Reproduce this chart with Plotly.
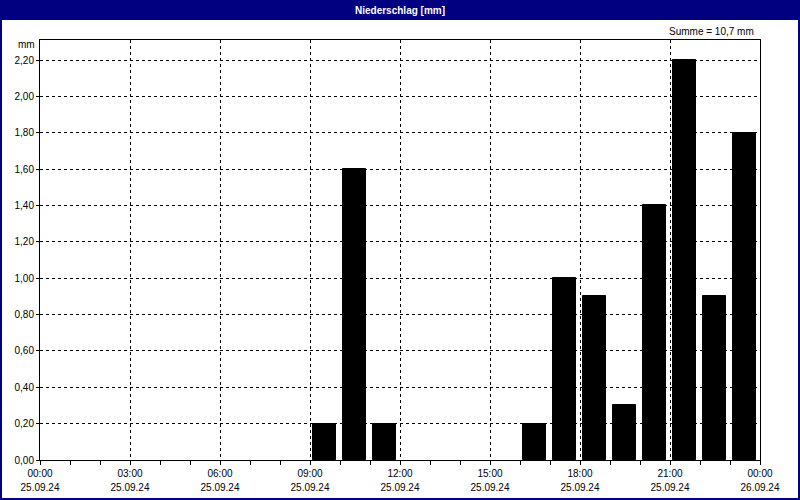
import plotly.graph_objects as go

# Hourly precipitation, 25.09.24 (bar starts at hour)
hours = [f"2024-09-25 {h:02d}:00" for h in range(24)]
precip = [0, 0, 0, 0, 0, 0, 0, 0, 0, 0.2, 1.6, 0.2,
          0, 0, 0, 0, 0.2, 1.0, 0.9, 0.3, 1.4, 2.2, 0.9, 1.8]
title_text = "Niederschlag [mm]"
unit = "mm"
total = sum(precip)
sum_text = f"Summe = {total:.1f} mm".replace(".", ",")

FONT = "Liberation Sans, Arial, sans-serif"
NAVY = "#000080"

fig = go.Figure()
fig.add_trace(go.Bar(
    x=hours, y=precip,
    width=2760000, offset=300000,
    marker=dict(color="#000000",
                line=dict(width=[1 if v > 0 else 0 for v in precip],
                          color="#000000")),
    hoverinfo="skip",
))
# invisible trace to activate the second (date-line) x axis
fig.add_trace(go.Scatter(x=[hours[0]], y=[0], xaxis="x2", mode="markers",
                         marker=dict(opacity=0), hoverinfo="skip"))

L, R, T, B = 40, 40, 40, 40
W, H = 800, 500
pw, ph = W - L - R, H - T - B


def px_x(px):
    return (px - L) / pw


def px_y(py):
    return (H - B - py) / ph


XRANGE = ["2024-09-25 00:00", "2024-09-26 00:00"]

fig.update_layout(
    width=W, height=H,
    margin=dict(l=L, r=R, t=T, b=B, pad=0, autoexpand=False),
    paper_bgcolor="white", plot_bgcolor="white",
    separators=",.",
    showlegend=False,
    bargap=0,
    font=dict(family=FONT, size=10, color="#000000"),
    xaxis=dict(
        type="date", range=XRANGE,
        tick0="2024-09-25 00:00", dtick=3 * 3600000,
        tickformat="%H:%M",
        showgrid=True, gridcolor="#000000", gridwidth=1, griddash="3px,3px",
        ticks="outside", ticklen=4, tickcolor="#000000",
        minor=dict(dtick=3600000, ticks="outside", ticklen=4,
                   tickcolor="#000000", showgrid=False),
        showline=True, linecolor="#000000", linewidth=1, mirror=True,
        zeroline=False, fixedrange=True, automargin=False,
    ),
    xaxis2=dict(
        type="date", range=XRANGE, overlaying="x", side="bottom",
        tick0="2024-09-25 00:00", dtick=3 * 3600000,
        tickformat="%d.%m.%y",
        showgrid=False, ticks="", showline=False, zeroline=False,
        ticklabelstandoff=20, fixedrange=True, automargin=False,
    ),
    yaxis=dict(
        range=[0, 2.31], tick0=0, dtick=0.2, tickformat=".2f",
        showgrid=True, gridcolor="#000000", gridwidth=1, griddash="3px,3px",
        ticks="outside", ticklen=3, tickcolor="#000000",
        showline=True, linecolor="#000000", linewidth=1, mirror=True,
        zeroline=False, fixedrange=True, automargin=False,
    ),
    shapes=[
        dict(type="rect", xref="paper", yref="paper",
             x0=px_x(0), x1=px_x(W), y0=px_y(20), y1=px_y(0),
             fillcolor=NAVY, line=dict(width=0), layer="above"),
        dict(type="rect", xref="paper", yref="paper",
             x0=px_x(1), x1=px_x(W - 1), y0=px_y(H - 1), y1=px_y(1),
             fillcolor="rgba(0,0,0,0)", line=dict(color=NAVY, width=2),
             layer="above"),
    ],
    annotations=[
        dict(text=f"<b>{title_text}</b>", xref="paper", yref="paper",
             x=px_x(400), y=px_y(10), xanchor="center", yanchor="middle",
             showarrow=False, font=dict(color="white", size=10, family=FONT)),
        dict(text=sum_text, xref="paper", yref="paper",
             x=px_x(756), y=px_y(31), xanchor="right", yanchor="middle",
             showarrow=False, font=dict(size=10, family=FONT)),
        dict(text=unit, xref="paper", yref="paper",
             x=px_x(37), y=px_y(45), xanchor="right", yanchor="middle",
             showarrow=False, font=dict(size=10, family=FONT)),
    ],
)

fig.write_html(
    "out.html",
    config=dict(displayModeBar=False),
    post_script="document.body.style.margin='0';document.body.style.overflow='hidden';",
)
